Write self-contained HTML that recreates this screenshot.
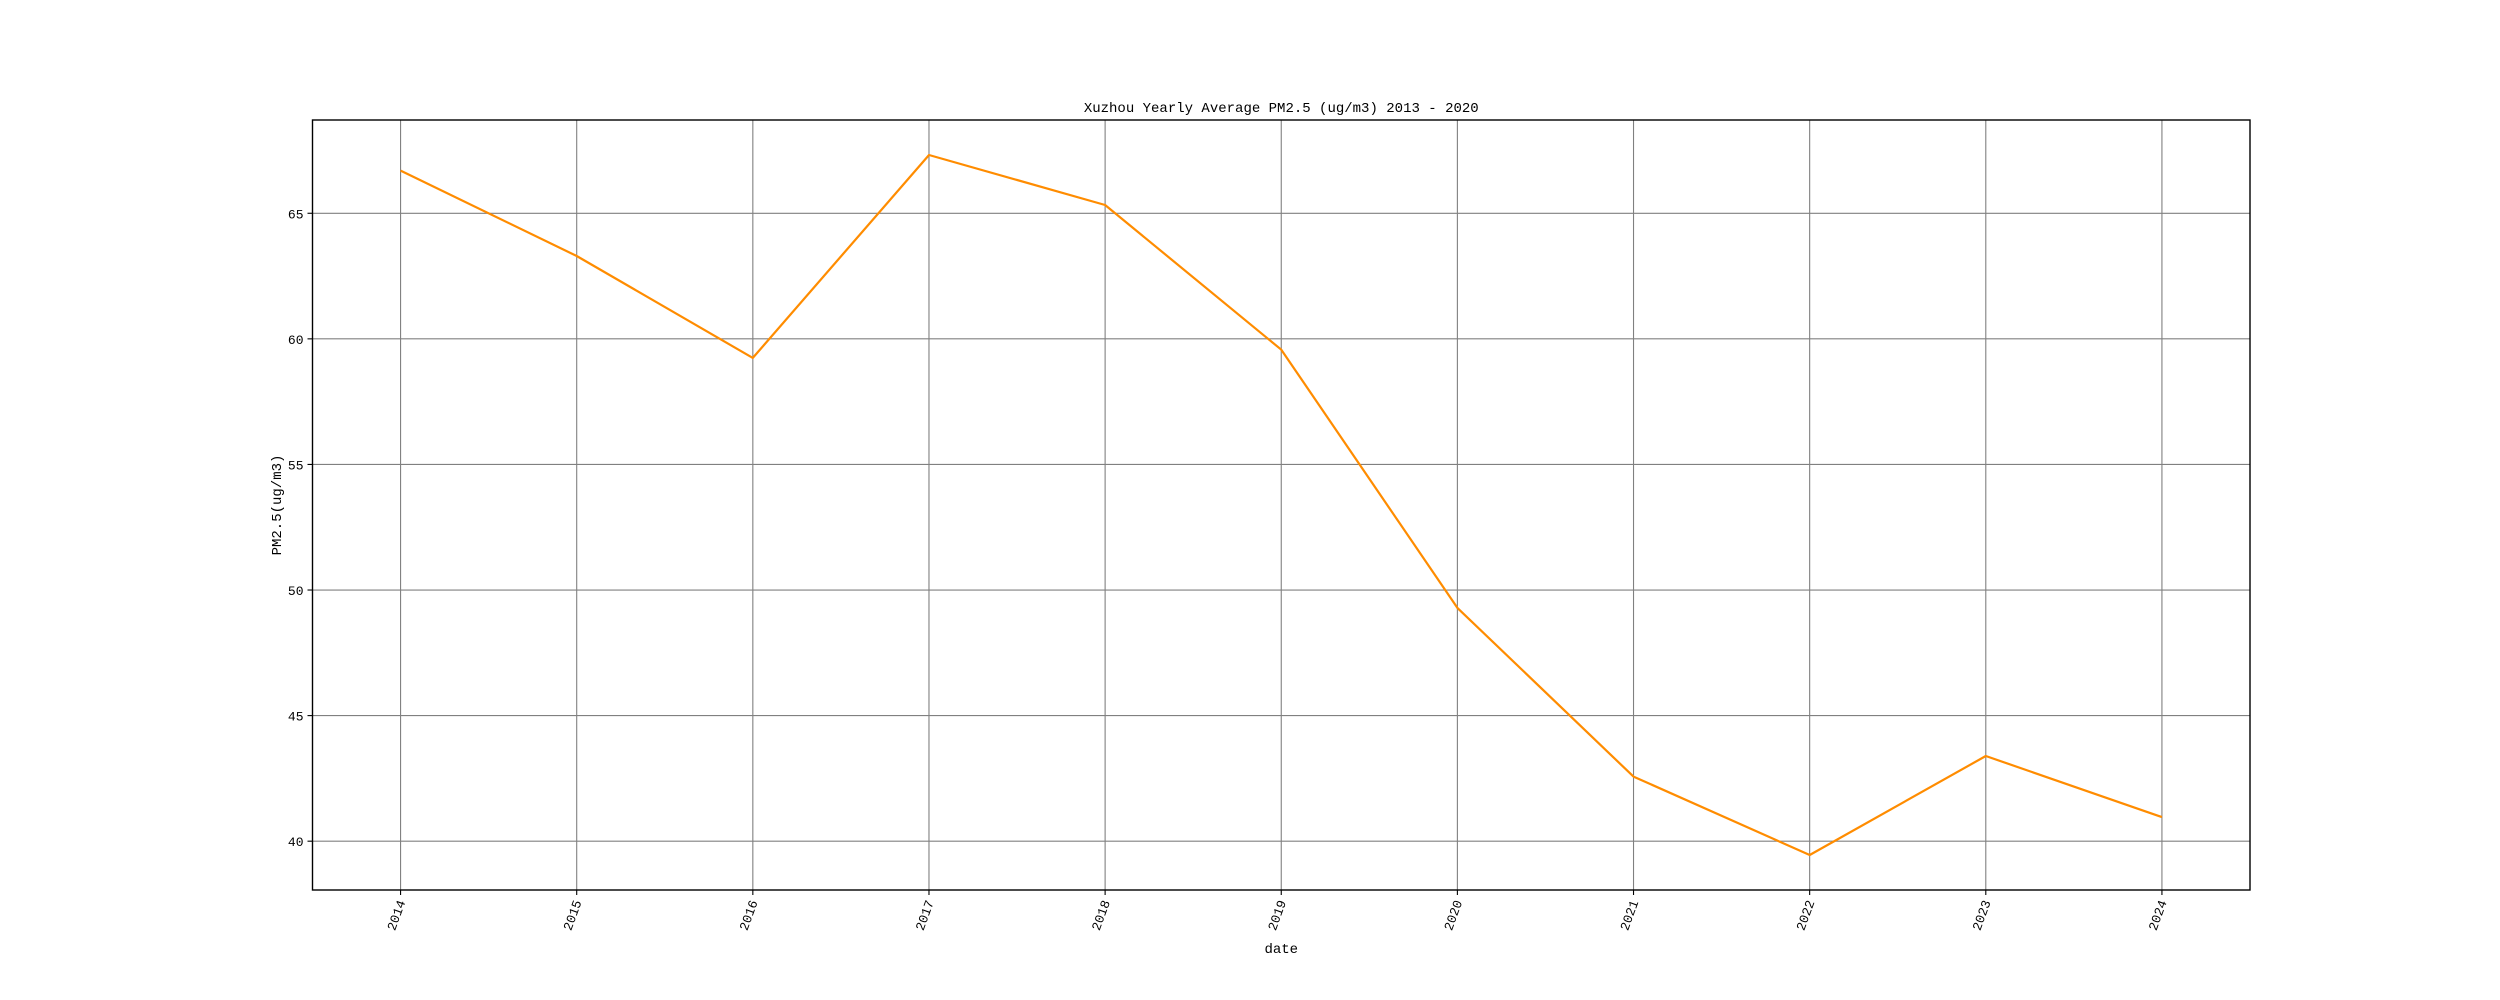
<!DOCTYPE html>
<html><head><meta charset="utf-8"><style>
html,body{margin:0;padding:0;background:#fff;}
svg{display:block;}
text{font-family:"Liberation Mono","Noto Sans CJK SC",monospace;fill:#000;}
</style></head><body>
<svg id="chart" width="2500" height="1000" viewBox="0 0 2500 1000" xmlns="http://www.w3.org/2000/svg"></svg>
<script>
const years = [2014,2015,2016,2017,2018,2019,2020,2021,2022,2023,2024];
const pm25 = [66.70,63.30,59.24,67.32,65.33,59.57,49.29,42.57,39.45,43.39,40.96];
const yTicks = [40,45,50,55,60,65];
const titleText = "Xuzhou Yearly Average PM2.5 (ug/m3) 2013 - 2020";

const L=312.5,R=2250,T=120,B=890;
const xmin0=Math.min(...years),xmax0=Math.max(...years);
const xm=(xmax0-xmin0)*0.05;
const xmin=xmin0-xm,xmax=xmax0+xm;
const ymin0=Math.min(...pm25),ymax0=Math.max(...pm25);
const ym=(ymax0-ymin0)*0.05;
const ymin=ymin0-ym,ymax=ymax0+ym;
function xs(v){return L+(v-xmin)/(xmax-xmin)*(R-L);}
function ys(v){return B-(v-ymin)/(ymax-ymin)*(B-T);}
const svg=document.getElementById('chart');
const NS='http://www.w3.org/2000/svg';
function mk(tag,attrs,parent){const e=document.createElementNS(NS,tag);for(const k in attrs)e.setAttribute(k,attrs[k]);(parent||svg).appendChild(e);return e;}

const grid=mk('g',{});


years.forEach(y=>{
  const x=xs(y);
  const l=mk('line',{x1:x,x2:x,y1:T,y2:B,stroke:'#808080','stroke-width':1.1},grid);
  
  
  const tk=mk('line',{x1:x,x2:x,y1:B,y2:B+5,stroke:'#000','stroke-width':1.1});
  
  
  const t=mk('text',{x:0,y:0,'font-size':13,'text-anchor':'end',transform:`translate(${x+5},${B+12}) rotate(-70)`});
  t.textContent=String(y);
  
  
});
yTicks.forEach(v=>{
  const y=ys(v);
  const l=mk('line',{x1:L,x2:R,y1:y,y2:y,stroke:'#808080','stroke-width':1.1},grid);
  
  
  const tk=mk('line',{x1:L-5,x2:L,y1:y,y2:y,stroke:'#000','stroke-width':1.1});
  
  
  const t=mk('text',{x:L-9,y:y+5,'font-size':13,'text-anchor':'end'});
  t.textContent=String(v);
  
  
});

const pts=years.map((y,i)=>xs(y).toFixed(1)+','+ys(pm25[i]).toFixed(1)).join(' ');
const line=mk('polyline',{points:pts,fill:'none',stroke:'#ff8c00','stroke-width':2.2,'stroke-linejoin':'round'});



const frame=mk('rect',{x:L,y:T,width:R-L,height:B-T,fill:'none',stroke:'#000','stroke-width':1.4});



const title=mk('text',{x:(L+R)/2,y:112,'font-size':14,'text-anchor':'middle'});
title.textContent=titleText;



const xl=mk('text',{x:(L+R)/2,y:953,'font-size':14,'text-anchor':'middle'});
xl.textContent='date';



const yl=mk('text',{x:0,y:0,'font-size':14,'text-anchor':'middle',transform:`translate(281,${(T+B)/2}) rotate(-90)`});
yl.textContent='PM2.5(ug/m3)';


</script>
</body></html>
